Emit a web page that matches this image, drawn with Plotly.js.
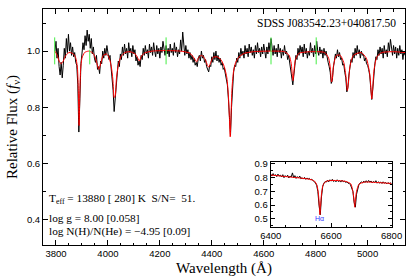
<!DOCTYPE html>
<html>
<head>
<meta charset="utf-8">
<script src="https://cdn.plot.ly/plotly-3.0.1.min.js"></script>
<style>
  body { margin: 0; background: #fff; }
  #chart { width: 415px; height: 278px; }
</style>
</head>
<body>
<div id="chart"></div>
<script>
// observed spectrum, 4 A steps starting at 3796 A
const obsStart = 3796;
const obsStep = 4;
const obsFlux = [
  1.000, 1.035, 0.975, 1.010, 0.945, 0.915, 0.960, 0.905, 0.950, 1.010,
  0.975, 1.045, 0.995, 1.060, 1.000, 1.030, 0.985, 1.015, 0.980, 0.995,
  0.960, 0.950, 0.880, 0.712, 0.830, 0.955, 0.990, 1.030, 1.005, 1.055,
  1.020, 1.075, 1.035, 1.060, 1.010, 1.045, 0.990, 1.015, 0.975, 0.960,
  0.985, 0.935, 0.945, 0.920, 0.965, 0.955, 1.000, 0.975, 1.010, 0.985,
  1.020, 0.990, 0.970, 0.985, 0.940, 0.925, 0.860, 0.785, 0.830, 0.905,
  0.935, 0.965, 0.945, 0.990, 0.970, 1.015, 0.985, 1.025, 0.990, 1.010,
  0.975, 1.030, 0.995, 1.010, 0.980, 1.020, 0.990, 1.005, 0.965, 0.980,
  0.950, 0.965, 0.945, 0.985, 0.970, 1.010, 0.985, 1.020, 0.990, 1.005,
  0.975, 1.025, 0.995, 1.015, 0.985, 1.030, 1.000, 0.980, 1.020, 0.990,
  1.010, 0.975, 1.015, 0.995, 1.035, 1.000, 0.985, 1.020, 0.990, 1.010,
  0.980, 1.025, 0.995, 1.010, 0.985, 1.030, 0.995, 1.015, 0.980, 1.005,
  0.990, 1.040, 1.000, 1.068, 1.010, 0.985, 1.020, 0.990, 1.005, 0.975,
  0.995, 0.970, 0.985, 0.960, 0.975, 0.950, 0.960, 0.945, 0.975, 0.985,
  0.965, 1.000, 0.975, 0.985, 0.960, 0.970, 0.945, 0.935, 0.926, 0.950,
  0.945, 0.980, 0.960, 0.995, 0.970, 1.000, 0.965, 0.985, 0.960, 0.975,
  0.950, 0.960, 0.935, 0.940, 0.915, 0.905, 0.880, 0.830, 0.755, 0.700,
  0.800, 0.880, 0.925, 0.950, 0.945, 0.975, 0.960, 0.995, 0.975, 1.010,
  0.985, 1.000, 0.975, 1.020, 0.990, 1.010, 0.980, 1.025, 0.995, 1.015,
  0.985, 1.005, 0.975, 1.020, 0.990, 1.030, 0.995, 1.010, 0.980, 1.015,
  0.990, 1.025, 0.995, 0.975, 1.015, 0.990, 1.030, 1.000, 1.045, 1.005,
  0.985, 1.020, 0.990, 1.010, 0.980, 1.025, 0.995, 1.010, 0.975, 1.005,
  0.985, 1.020, 0.990, 1.000, 0.970, 0.985, 0.960, 0.945, 0.910, 0.880,
  0.915, 0.960, 0.985, 0.970, 1.010, 0.985, 1.020, 0.995, 1.015, 0.980,
  1.025, 0.990, 1.010, 0.975, 1.000, 0.985, 1.030, 0.995, 1.010, 0.980,
  1.020, 0.990, 1.035, 1.000, 0.985, 1.015, 0.990, 1.005, 0.975, 1.010,
  0.985, 1.000, 0.970, 0.960, 0.945, 0.925, 0.885, 0.895, 0.940, 0.965,
  0.990, 0.975, 1.005, 0.980, 0.995, 0.970, 0.975, 0.950, 0.955, 0.925,
  0.905, 0.855, 0.870, 0.915, 0.945, 0.970, 0.960, 0.995, 0.975, 1.010,
  0.985, 1.020, 0.990, 1.005, 0.975, 1.000, 0.985, 0.990, 0.965, 0.975,
  0.955, 0.950, 0.935, 0.915, 0.870, 0.828, 0.865, 0.925, 0.955, 0.980,
  0.970, 1.005, 0.985, 1.015, 0.990, 1.010, 0.975, 1.020, 0.990, 1.005,
  0.980, 1.030, 1.000, 1.042, 1.005, 0.985, 1.020, 0.990, 1.015, 0.975,
  1.010, 0.985, 1.020, 0.990, 1.005, 0.970, 1.000, 0.985
];

// model fit (red)
const modelWave = [
  3796, 3805, 3812, 3820, 3828, 3838, 3850, 3862, 3872, 3878, 3883, 3886, 3889, 3892, 3895,
  3900, 3910, 3925, 3940, 3950, 3958, 3965, 3972, 3982, 3995, 4005, 4013, 4019, 4024, 4028,
  4033, 4040, 4050, 4065, 4085, 4105, 4115, 4121, 4128, 4140, 4170, 4220, 4280, 4315, 4332,
  4341, 4350, 4362, 4375, 4383, 4388, 4394, 4405, 4420, 4435, 4448, 4458, 4464, 4468, 4471,
  4474, 4478, 4484, 4492, 4505, 4525, 4560, 4620, 4680, 4698, 4706, 4711, 4713, 4716, 4722,
  4735, 4780, 4835, 4850, 4857, 4861, 4864, 4869, 4880, 4895, 4908, 4916, 4922, 4926, 4932,
  4945, 4975, 4995, 5008, 5014, 5016, 5019, 5025, 5036, 5055, 5100, 5144
];
const modelFlux = [
  1.000, 0.985, 0.965, 0.955, 0.965, 0.985, 0.995, 0.993, 0.985, 0.970, 0.935, 0.860, 0.735, 0.860, 0.935,
  0.975, 0.995, 1.000, 0.995, 0.980, 0.955, 0.935, 0.955, 0.985, 0.990, 0.975, 0.945, 0.900, 0.835, 0.840,
  0.905, 0.950, 0.980, 0.995, 0.998, 0.990, 0.975, 0.965, 0.980, 0.993, 1.000, 1.002, 1.000, 0.993, 0.975,
  0.962, 0.978, 0.985, 0.970, 0.950, 0.943, 0.955, 0.978, 0.980, 0.970, 0.945, 0.905, 0.840, 0.760, 0.695,
  0.770, 0.870, 0.930, 0.960, 0.980, 0.992, 0.998, 1.000, 0.998, 0.985, 0.955, 0.905, 0.895, 0.925, 0.970,
  0.992, 0.998, 0.995, 0.975, 0.935, 0.890, 0.900, 0.950, 0.985, 0.985, 0.960, 0.915, 0.860, 0.885, 0.945,
  0.985, 0.995, 0.975, 0.920, 0.850, 0.830, 0.860, 0.935, 0.980, 0.995, 0.998, 0.995
];

// green flagged points
const flagWave = [3795, 3930, 4224, 4628, 4802];
const flagLow = [0.953, 0.953, 0.953, 0.953, 0.953];
const flagHigh = [1.049, 1.005, 1.049, 1.049, 1.049];

// inset: H-alpha region, 4 A steps starting at 6400 A
const insetStart = 6400;
const insetStep = 4;
const insetFlux = [
  0.825, 0.812, 0.830, 0.815, 0.822, 0.808, 0.826, 0.812, 0.818, 0.805,
  0.822, 0.800, 0.815, 0.806, 0.818, 0.798, 0.812, 0.805, 0.835, 0.800,
  0.815, 0.795, 0.808, 0.798, 0.812, 0.792, 0.800, 0.790, 0.802, 0.788,
  0.798, 0.790, 0.795, 0.785, 0.788, 0.778, 0.775, 0.762, 0.745, 0.700,
  0.600, 0.530, 0.660, 0.735, 0.760, 0.772, 0.768, 0.782, 0.770, 0.785,
  0.775, 0.788, 0.772, 0.780, 0.770, 0.785, 0.772, 0.778, 0.768, 0.782,
  0.770, 0.776, 0.765, 0.770, 0.760, 0.758, 0.748, 0.730, 0.700, 0.620,
  0.585, 0.680, 0.730, 0.752, 0.760, 0.770, 0.762, 0.775, 0.765, 0.778,
  0.766, 0.780, 0.768, 0.776, 0.762, 0.772, 0.765, 0.778, 0.760, 0.770,
  0.762, 0.768, 0.758, 0.770, 0.760, 0.765, 0.755, 0.764, 0.756, 0.762,
  0.758
];
const insetModelWave = [
  6400, 6450, 6500, 6530, 6545, 6553, 6558, 6561, 6563, 6565, 6568, 6573, 6582, 6600, 6630,
  6650, 6665, 6672, 6676, 6678, 6680, 6684, 6692, 6710, 6750, 6800
];
const insetModelFlux = [
  0.820, 0.808, 0.797, 0.788, 0.775, 0.745, 0.680, 0.590, 0.530, 0.590, 0.680, 0.745, 0.772, 0.780, 0.778,
  0.772, 0.755, 0.700, 0.630, 0.585, 0.630, 0.700, 0.752, 0.768, 0.765, 0.758
];

const starName = "SDSS J083542.23+040817.50";
const fitLines = [
  "T<sub>eff</sub> = 13880 [ 280] K  S/N=  51.",
  "log g = 8.00 [0.058]",
  "log N(H)/N(He) = −4.95 [0.09]"
];

const flagX = [];
const flagY = [];
flagWave.forEach((w, i) => {
  flagX.push(w, w, null);
  flagY.push(flagLow[i], flagHigh[i], null);
});

const traces = [
  {
    type: "scatter", mode: "lines",
    x0: obsStart, dx: obsStep, y: obsFlux,
    line: { color: "#000", width: 1 },
  },
  {
    type: "scatter", mode: "lines",
    x: modelWave, y: modelFlux,
    line: { color: "#ff0000", width: 1, shape: "spline", smoothing: 0.6 },
  },
  {
    type: "scatter", mode: "lines",
    x: flagX, y: flagY,
    line: { color: "#44ee44", width: 1 },
  },
  {
    type: "scatter", mode: "lines",
    x0: insetStart, dx: insetStep, y: insetFlux,
    xaxis: "x2", yaxis: "y2",
    line: { color: "#000", width: 1 },
  },
  {
    type: "scatter", mode: "lines",
    x: insetModelWave, y: insetModelFlux,
    xaxis: "x2", yaxis: "y2",
    line: { color: "#ff0000", width: 1, shape: "spline", smoothing: 0.6 },
  },
];

const axisStyle = {
  showline: true,
  linecolor: "#000",
  linewidth: 1,
  mirror: "ticks",
  ticks: "inside",
  tickcolor: "#000",
  showgrid: false,
  zeroline: false,
  tickfont: { family: "Liberation Sans", size: 9.5, color: "#000" },
};

const layout = {
  width: 415,
  height: 278,
  margin: { l: 43, r: 10, t: 9, b: 33 },
  paper_bgcolor: "#fff",
  plot_bgcolor: "#fff",
  showlegend: false,
  font: { family: "Liberation Serif", size: 12, color: "#000" },
  xaxis: {
    ...axisStyle,
    range: [3750, 5144],
    dtick: 200, tick0: 0, ticklen: 5,
    minor: { dtick: 50, ticklen: 2.5, ticks: "inside", tickcolor: "#000" },
    title: { text: "Wavelength (Å)", font: { size: 15 }, standoff: 4 },
  },
  yaxis: {
    ...axisStyle,
    range: [0.31, 1.15],
    dtick: 0.2, tick0: 0, ticklen: 5, tickformat: ".1f",
    minor: { dtick: 0.1, ticklen: 2.5, ticks: "inside", tickcolor: "#000" },
    title: { text: "Relative Flux (<i>f</i><sub>ν</sub>)", font: { size: 15 }, standoff: 5 },
  },
  xaxis2: {
    ...axisStyle,
    domain: [0.629, 0.963], anchor: "y2",
    range: [6400, 6800],
    dtick: 200, tick0: 0, ticklen: 4, ticklabelstandoff: 0,
    minor: { dtick: 50, ticklen: 2, ticks: "inside", tickcolor: "#000" },
  },
  yaxis2: {
    ...axisStyle,
    domain: [0.076, 0.352], anchor: "x2",
    range: [0.44, 0.915],
    dtick: 0.1, tick0: 0, ticklen: 4, tickformat: ".1f",
    minor: { dtick: 0.05, ticklen: 2, ticks: "inside", tickcolor: "#000" },
  },
  annotations: [
    {
      text: starName, xref: "paper", yref: "paper", x: 0.981, y: 0.941,
      xanchor: "right", yanchor: "middle", showarrow: false,
      font: { size: 11.5 },
    },
    ...fitLines.map((t, i) => ({
      text: t, xref: "paper", yref: "paper", x: 0.011, y: [0.195, 0.114, 0.059][i],
      xanchor: "left", yanchor: "middle", showarrow: false,
      font: { size: 11.3 },
    })),
    {
      text: "Hα", xref: "x2", yref: "y2", x: 6563, y: 0.503,
      xanchor: "center", yanchor: "middle", showarrow: false,
      font: { family: "Liberation Sans", size: 7, color: "#3333ff" },
    },
  ],
};

Plotly.newPlot("chart", traces, layout, { staticPlot: true, displayModeBar: false });
</script>
</body>
</html>
